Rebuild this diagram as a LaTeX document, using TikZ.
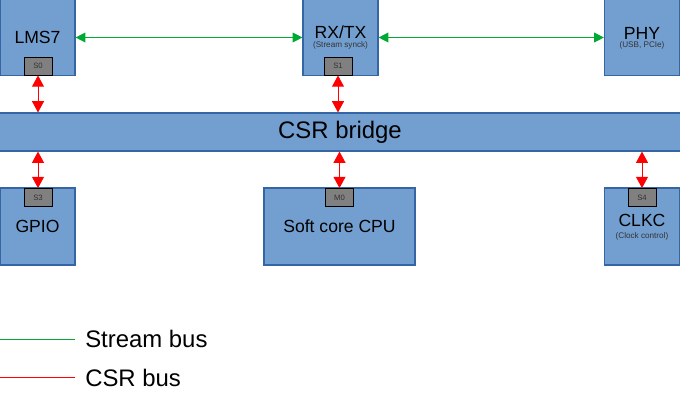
\documentclass[tikz,border=0pt]{standalone}
\usepackage{fontspec}
\setmainfont{Liberation Sans}
\usepackage{tikz}
\usetikzlibrary{arrows.meta}
\definecolor{blockfill}{HTML}{729FCF}
\definecolor{blockline}{HTML}{3465A4}
\definecolor{portfill}{HTML}{808080}
\definecolor{porttext}{HTML}{333333}
\definecolor{streamgreen}{HTML}{00A933}
\definecolor{csrred}{HTML}{FF0000}
\tikzset{
  block/.style={draw=blockline, fill=blockfill, line width=0.8pt, inner sep=0pt,
    minimum width=1.875cm, minimum height=1.9cm, font=\fontsize{12.5}{14}\selectfont, align=center},
  port/.style={draw=black, fill=portfill, line width=0.6pt, inner sep=0pt,
    minimum width=0.7cm, minimum height=0.45cm, text=porttext, font=\fontsize{5.5}{6}\selectfont},
  sub/.style={font=\fontsize{5.8}{7}\selectfont, text=porttext},
  streamline/.style={draw=streamgreen, fill=streamgreen, line width=0.7pt,
    {Triangle[width=7pt,length=7pt]}-{Triangle[width=7pt,length=7pt]}},
  csrline/.style={draw=csrred, fill=csrred, line width=0.7pt,
    {Triangle[width=8.5pt,length=8pt]}-{Triangle[width=8.5pt,length=8pt]}},
  legend/.style={anchor=west, inner sep=0pt, font=\fontsize{17}{20}\selectfont}
}

\begin{document}
\begin{tikzpicture}[x=0.025cm, y=-0.025cm]
  \useasboundingbox (0,0) rectangle (680,397);

  % top row
  \node[block] (lms) at (37.5,37.5) {LMS7};
  \node[block] (rxtx) at (340.5,37.5) {};
  \node (rxtxname) at (340.5,32) {\fontsize{12.5}{14}\selectfont RX/TX};
  \node[sub] (rxtxsub) at (340.5,45.5) {(Stream synck)};
  \node[block] (phy) at (642,37.5) {};
  \node (phyname) at (642,33) {\fontsize{12.5}{14}\selectfont PHY};
  \node[sub] (physub) at (642,45.5) {(USB, PCIe)};

  \node[port] (s0) at (38,66) {S0};
  \node[port] (s1) at (338,66) {S1};

  % bridge
  \node[draw=blockline, fill=blockfill, line width=0.8pt, minimum width=17cm, minimum height=0.95cm,
    font=\fontsize{17}{20}\selectfont] (csr) at (340,132) {CSR bridge};

  % bottom row
  \node[block, minimum height=1.925cm] (gpio) at (37.5,226.5) {GPIO};
  \node[block, minimum width=3.775cm, minimum height=1.925cm] (cpu) at (339.5,226.5) {Soft core CPU};
  \node[block, minimum height=1.925cm] (clkc) at (642,226.5) {};
  \node (clkcname) at (642,220) {\fontsize{12.5}{14}\selectfont CLKC};
  \node[sub] (clkcsub) at (642,236) {(Clock control)};

  \node[port] (s3) at (38,197.5) {S3};
  \node[port] (m0) at (339.5,197.5) {M0};
  \node[port] (s4) at (642,197.5) {S4};

  % stream bus
  \draw[streamline] (lms.east) -- (rxtx.west);
  \draw[streamline] (rxtx.east) -- (phy.west);

  % csr bus
  \draw[csrline] (s0.south) -- (s0.south |- csr.north);
  \draw[csrline] (s1.south) -- (s1.south |- csr.north);
  \draw[csrline] (s3.north |- csr.south) -- (s3.north);
  \draw[csrline] (m0.north |- csr.south) -- (m0.north);
  \draw[csrline] (s4.north |- csr.south) -- (s4.north);

  % legend
  \node[legend] (lstream) at (85,339) {Stream bus};
  \node[legend] (lcsr) at (85,378) {CSR bus};
  \coordinate (ls) at (0,339);
  \coordinate (lc) at (0,377);
  \draw[streamgreen, line width=0.5pt] (ls) -- ++(75,0);
  \draw[csrred, line width=0.5pt] (lc) -- ++(75,0);
\end{tikzpicture}
\end{document}
